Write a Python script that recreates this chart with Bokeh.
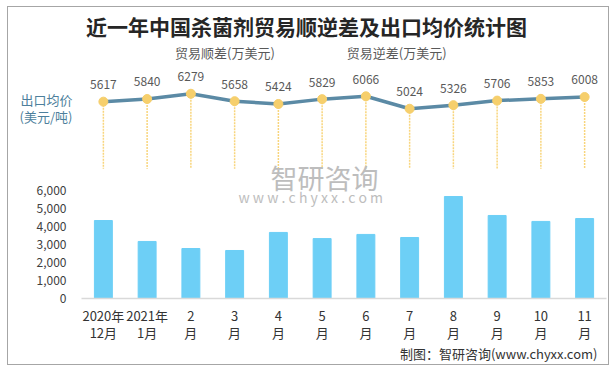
from bokeh.plotting import figure
from bokeh.layouts import column
from bokeh.models import (ColumnDataSource, Range1d, FactorRange, FixedTicker, CategoricalAxis,
                          LinearAxis, NumeralTickFormatter, CustomJSTickFormatter, Legend,
                          LegendItem, Label)
from bokeh.core.properties import value
from bokeh.embed import file_html
from bokeh.resources import INLINE

# ---------------- data ----------------
categories = ["2020年", "2021年", "2", "3", "4", "5", "6", "7", "8", "9", "10", "11"]
second_line = ["12月", "1月", "月", "月", "月", "月", "月", "月", "月", "月", "月", "月"]
surplus = [4320, 3160, 2770, 2660, 3660, 3320, 3550, 3380, 5650, 4600, 4270, 4430]
deficit = [0, 0, 0, 0, 0, 0, 0, 0, 0, 0, 0, 0]
price = [5617, 5840, 6279, 5658, 5424, 5829, 6066, 5024, 5326, 5706, 5853, 6008]
y_ticks = [0, 1000, 2000, 3000, 4000, 5000, 6000]

FONT = "Noto Sans CJK SC"
BAR = "#6dcff6"
LINE = "#5b8aa5"
DOT = "#f6cf6c"
DROP = "#f8d57c"

n = len(categories)
xr = FactorRange(*categories, range_padding=0)
src = ColumnDataSource(dict(cat=categories, surplus=surplus, deficit=deficit,
                            price=price, zero=[0] * n, lbl=[str(v) for v in price]))


def bare(fig):
    fig.outline_line_color = None
    fig.xgrid.visible = False
    fig.ygrid.visible = False


# ---------------- top panel: title, legend, price line ----------------
A = figure(x_range=xr, y_range=Range1d(945, 13496), title=None,
           frame_width=525, frame_height=150,
           min_border_left=73, min_border_right=2, min_border_top=0, min_border_bottom=0,
           x_axis_location=None, y_axis_location=None,
           output_backend="svg", toolbar_location=None, tools="")
bare(A)

# unit caption at the left, set as two tick labels of the price axis
cap = LinearAxis(ticker=FixedTicker(ticks=[5798, 4376]),
                 major_label_overrides={5798: "出口均价", 4376: "(美元/吨)"},
                 axis_line_color=None, major_tick_line_color=None,
                 minor_tick_line_color=None, major_tick_out=0, major_tick_in=0,
                 major_label_standoff=9,
                 major_label_text_font=FONT, major_label_text_font_size="13px",
                 major_label_text_color="#4d7f9c")
A.add_layout(cap, "left")

A.segment(x0="cat", y0="price", x1="cat", y1="zero", source=src,
          line_color=DROP, line_width=1.5, line_dash="2 1")
A.line(x="cat", y="price", source=src, line_color=LINE, line_width=3.5)
A.scatter(x="cat", y="price", source=src, size=9, fill_color=DOT, line_color=DOT)
A.text(x="cat", y="price", text="lbl", source=src,
       text_align="center", text_baseline="middle", y_offset=-17,
       text_font=value(FONT), text_font_size="12px", text_color="#595959")

A.add_layout(Label(x=225, y=132, x_units="screen", y_units="screen",
                   text="近一年中国杀菌剂贸易顺逆差及出口均价统计图",
                   text_font=FONT, text_font_size="21px", text_font_style="bold",
                   text_color="#262626", text_align="center", text_baseline="middle"))

# ---------------- middle panel: bars ----------------
B = figure(x_range=xr, y_range=Range1d(0, 7812),
           frame_width=525, frame_height=141,
           min_border_left=73, min_border_right=2, min_border_top=0, min_border_bottom=0,
           output_backend="svg", toolbar_location=None, tools="")
B.extra_y_ranges = {"line": Range1d(-10852, 945)}
bare(B)

B.yaxis.ticker = FixedTicker(ticks=y_ticks)
B.yaxis.formatter = NumeralTickFormatter(format="0,0")
B.yaxis.axis_line_color = None
B.yaxis.major_tick_line_color = None
B.yaxis.minor_tick_line_color = None
B.yaxis.major_tick_out = 0
B.yaxis.major_tick_in = 0
B.yaxis.major_label_standoff = 15
B.yaxis.major_label_text_font = FONT
B.yaxis.major_label_text_font_size = "12px"
B.yaxis.major_label_text_color = "#404040"

xa = B.xaxis[0]
xa.axis_line_color = "#d9d9d9"
xa.axis_line_width = 1.5
xa.major_tick_line_color = None
xa.minor_tick_line_color = None
xa.major_label_standoff = 1
xa.major_label_text_font = FONT
xa.major_label_text_font_size = "13px"
xa.major_label_text_color = "#333333"

xa2 = CategoricalAxis(formatter=CustomJSTickFormatter(
                          args=dict(cats=categories, sec=second_line),
                          code="const i = cats.indexOf(tick); return i < 0 ? '' : sec[i];"),
                      axis_line_color=None, major_tick_line_color=None,
                      minor_tick_line_color=None, major_label_standoff=-11,
                      major_label_text_font=FONT, major_label_text_font_size="13px",
                      major_label_text_color="#333333")
B.add_layout(xa2, "below")

# lower end of the drop lines (same pixel scale as the top panel)
B.segment(x0="cat", y0="price", x1="cat", y1="zero", source=src, y_range_name="line",
          line_color=DROP, line_width=1.5, line_dash="2 1")

bars = B.vbar(x="cat", top="surplus", width=0.41, source=src, color=BAR)
defs = B.vbar(x="cat", top="deficit", width=0.41, source=src, color=LINE)

legend = Legend(items=[LegendItem(label="贸易顺差(万美元)", renderers=[bars]),
                       LegendItem(label="贸易逆差(万美元)", renderers=[defs])],
                orientation="horizontal", location=(84, 95),
                glyph_width=7, glyph_height=7, spacing=62, label_height=14,
                label_text_font=FONT, label_text_font_size="13px",
                label_text_color="#595959", border_line_color=None,
                background_fill_alpha=0, padding=0, margin=0, label_standoff=3)
A.add_layout(legend, "center")

# watermark
B.add_layout(Label(x=189, y=121, x_units="screen", y_units="screen", text="智研咨询",
                   text_font=FONT, text_font_size="27px", text_color="#bdbdbd",
                   text_baseline="middle"))
B.add_layout(Label(x=157, y=102, x_units="screen", y_units="screen",
                   text="w w w . c h y x x . c o m",
                   text_font=FONT, text_font_size="14px", text_color="#bdbdbd",
                   text_baseline="middle"))

# ---------------- bottom strip: source note ----------------
C = figure(x_range=xr, y_range=Range1d(0, 1), title=None,
           frame_width=525, frame_height=20,
           min_border_left=73, min_border_right=2, min_border_top=0, min_border_bottom=0,
           x_axis_location=None, y_axis_location=None,
           output_backend="svg", toolbar_location=None, tools="")
bare(C)
C.add_layout(Label(x=516, y=11, x_units="screen", y_units="screen",
                   text="制图：智研咨询(www.chyxx.com)",
                   text_font=FONT, text_font_size="13px", text_color="#333333",
                   text_align="right", text_baseline="middle"))

layout = column(A, B, C, spacing=0, margin=(6, 0, 0, 7),
                styles={"border": "1px solid #a6a6a6"})
open("out.html", "w").write(file_html(layout, INLINE))
